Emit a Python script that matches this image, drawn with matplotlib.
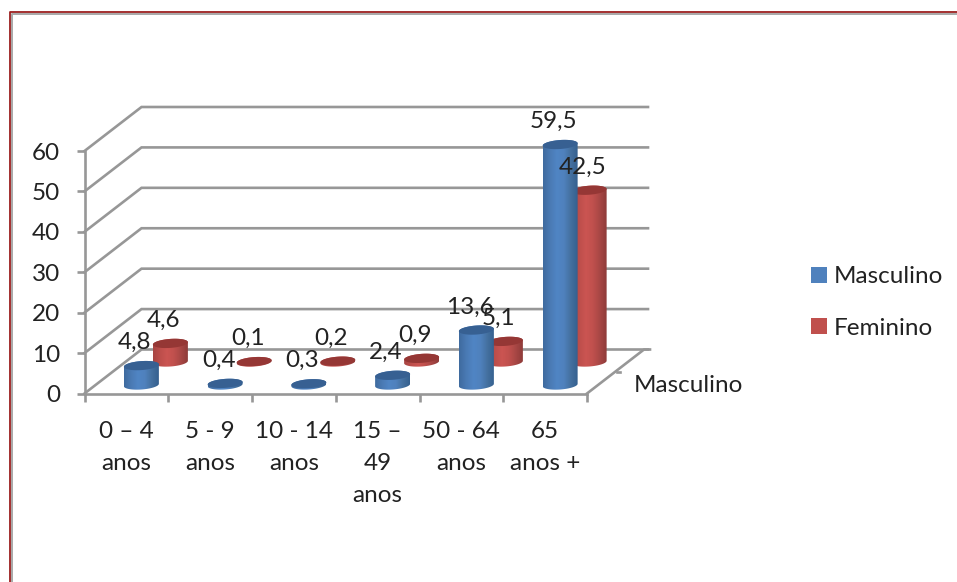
import numpy as np
import matplotlib
matplotlib.use("Agg")
import matplotlib.pyplot as plt
from matplotlib.colors import LinearSegmentedColormap
from matplotlib.lines import Line2D
from matplotlib.patches import Patch, PathPatch, Polygon
from matplotlib.path import Path

categories = ["0 – 4\nanos", "5 - 9\nanos", "10 - 14\nanos", "15 –\n49\nanos", "50 - 64\nanos", "65\nanos +"]
masculino = [4.8, 0.4, 0.3, 2.4, 13.6, 59.5]
feminino = [4.6, 0.1, 0.2, 0.9, 5.1, 42.5]
y_ticks = [0, 10, 20, 30, 40, 50, 60]

plt.rcParams['font.family'] = ['Lato', 'DejaVu Sans']
W, H = 957, 582
FS = 17.5
TXT = '#222222'
GREY = '#979797'
LW = 1.9

fig = plt.figure(figsize=(W / 100, H / 100), dpi=100, facecolor='white')

# axes = front plane of the 3d box
x0, x1, y0, y1 = 84.5, 587, 393.5, 151
ax = fig.add_axes([x0 / W, (H - y0) / H, (x1 - x0) / W, (y0 - y1) / H])
sx = (x1 - x0) / 6
sy = (y0 - y1) / 60
depth_x = 57 / sx
depth_y = 44 / sy


def cylinder(cat, val, shift_px, base_px, cmap, top_color):
    a = 17.5 / sx
    cx = cat + 0.5 + shift_px / sx
    base = base_px / sy
    top = base + val

    def arc(cy, t):
        return np.column_stack([cx + a * np.cos(t),
                                cy + (4.5 * np.sin(t) + 1.2 * np.cos(t)) / sy])

    body = np.vstack([arc(base, np.linspace(np.pi, 2 * np.pi, 40)),
                      arc(top, np.linspace(0, np.pi, 40))])
    clip = PathPatch(Path(np.vstack([body, body[0]])), fc='none', ec='none',
                     transform=ax.transData)
    ax.add_patch(clip)
    clip.set_clip_on(False)
    grad = np.linspace(0, 1, 64).reshape(1, -1)
    im = ax.imshow(grad, cmap=cmap, aspect='auto', zorder=3,
                   extent=[cx - a, cx + a, base - 8 / sy, top + 8 / sy])
    im.set_clip_path(clip)
    im.set_clip_box(fig.bbox)
    ax.add_patch(Polygon(arc(top, np.linspace(0, 2 * np.pi, 60)), closed=True,
                         fc=top_color, ec='none', zorder=3, clip_on=False))


blue_map = LinearSegmentedColormap.from_list('b', ['#3f6b9f', '#4a7ab4', '#5085c4', '#4f81bd', '#44709f', '#35608f'])
red_map = LinearSegmentedColormap.from_list('r', ['#a84543', '#bd4e4b', '#cb5552', '#c0504d', '#a84745', '#8f3b39'])

# back wall and side gridlines
back_end = 6 + depth_x + 4 / sx
for v in y_ticks:
    ax.plot([0, depth_x, back_end], [v, v + depth_y, v + depth_y], color=GREY,
            lw=LW, clip_on=False, zorder=1, solid_joinstyle='miter')
# floor right edge, with its tick
ax.plot([6, 6 + depth_x, back_end + 2 / sx], [0, depth_y, depth_y], color=GREY, lw=LW, clip_on=False, zorder=1)
ax.plot([6 + depth_x * 0.53, 6 + depth_x * 0.53 + 0.03], [depth_y * 0.5, depth_y * 0.5], color=GREY, lw=LW, clip_on=False, zorder=1)

for i in range(6):
    cylinder(i, feminino[i], 44, 31.5, red_map, '#953735')
for i in range(6):
    cylinder(i, masculino[i], 15, 8.5, blue_map, '#376092')

# data labels sit above the cylinder tops
for i in range(6):
    ax.text(i + 0.5 + 8.5 / sx, masculino[i] + 31.5 / sy, f"{masculino[i]:.1f}".replace('.', ','),
            ha='center', va='center', fontsize=FS, color=TXT, zorder=5, clip_on=False)
    ax.text(i + 0.5 + 37.5 / sx, feminino[i] + 54.5 / sy, f"{feminino[i]:.1f}".replace('.', ','),
            ha='center', va='center', fontsize=FS, color=TXT, zorder=5, clip_on=False)

ax.set_xlim(0, 6)
ax.set_ylim(0, 60)
ax.patch.set_alpha(0)
for s in ['top', 'right']:
    ax.spines[s].set_visible(False)
for s in ['left', 'bottom']:
    ax.spines[s].set_color(GREY)
    ax.spines[s].set_linewidth(LW)
    ax.spines[s].set_zorder(2)

ax.set_yticks(y_ticks)
ax.set_xticks(range(7))
ax.set_xticklabels([])
ax.set_xticks(np.arange(6) + 0.5, minor=True)
ax.set_xticklabels(categories, minor=True, fontsize=FS, color=TXT, linespacing=1.65)
ax.tick_params(axis='x', which='minor', length=0, pad=20)
ax.tick_params(axis='x', which='major', length=6, width=LW, color=GREY)
ax.tick_params(axis='y', length=6, width=LW, color=GREY, labelsize=FS, labelcolor=TXT, pad=11.5)

fig.text(634 / W, 1 - 385 / H, "Masculino", fontsize=FS, color=TXT, va='center', ha='left')

handles = [Patch(fc='#4f81bd', ec='none', label='Masculino'), Patch(fc='#c0504d', ec='none', label='Feminino')]
fig.legend(handles=handles, loc='center left', bbox_to_anchor=(809 / W, 1 - 302.5 / H), frameon=False,
           fontsize=FS, labelcolor=TXT, handlelength=0.63, handleheight=0.63, handletextpad=0.27,
           labelspacing=1.25, borderpad=0.1, borderaxespad=0)

# outer frame, only top and left show
fig.add_artist(Line2D([11.5 / W, 11.5 / W, 1], [0, 1 - 13.5 / H, 1 - 13.5 / H], color='#a8a8a8', lw=1.4))
fig.add_artist(Line2D([10 / W, 10 / W, 1], [0, 1 - 12 / H, 1 - 12 / H], color='#9c1f1f', lw=1.3))

fig.savefig('out.png', dpi=100)
